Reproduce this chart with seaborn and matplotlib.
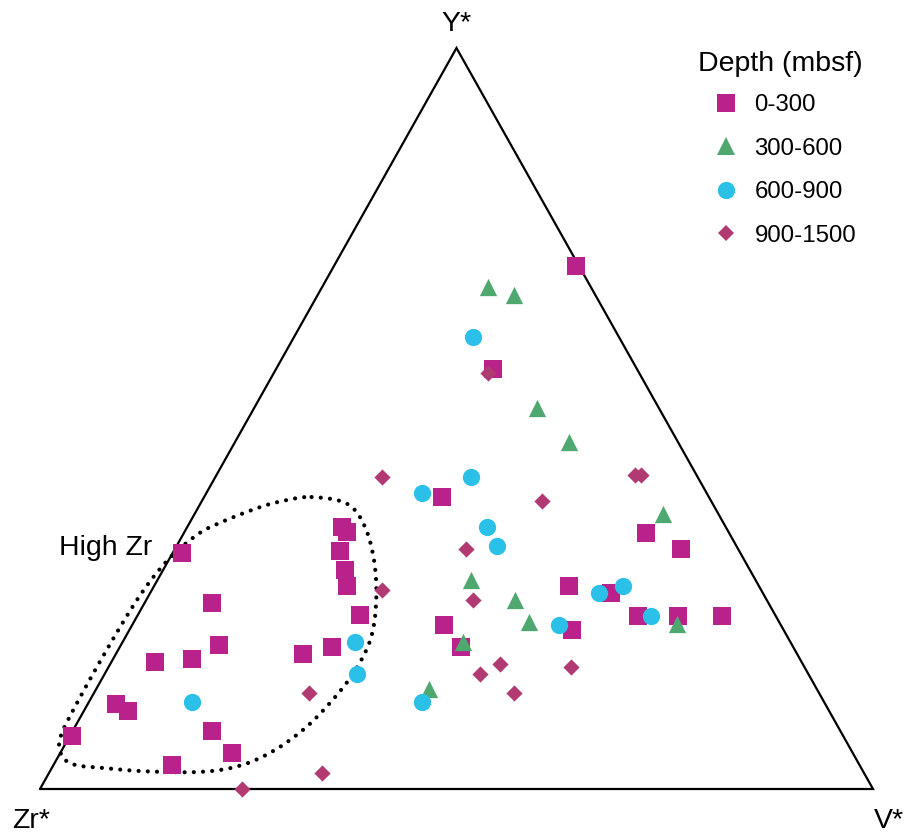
import numpy as np
import pandas as pd
import matplotlib
matplotlib.use("Agg")
import matplotlib.pyplot as plt
from matplotlib.lines import Line2D
import seaborn as sns

# ---- Compositions (percent Zr*, Y*, V*) by depth interval ----
zr_0_300 = [67.0, 46.0, 45.8, 47.9, 48.6, 49.4, 49.8, 66.8, 68.8, 77.6, 73.0, 59.3, 55.3,
            85.1, 84.2, 92.6, 75.4, 74.5, 82.5, 0.3, 17.3, 32.1, 10.0, 6.9, 22.8, 18.2,
            16.5, 11.7, 6.4, 25.4, 40.5, 39.9]
y_0_300 = [31.8, 35.4, 34.7, 32.1, 29.6, 27.4, 23.5, 25.1, 19.5, 17.1, 17.5, 18.2, 19.2,
           11.5, 10.5, 7.2, 7.8, 4.8, 3.2, 70.6, 56.7, 39.4, 34.5, 32.4, 27.4, 26.5,
           23.4, 23.4, 23.4, 21.5, 22.1, 19.2]
v_0_300 = [1.2, 18.6, 19.5, 20.0, 21.8, 23.2, 26.7, 8.1, 11.7, 5.3, 9.5, 22.5, 25.5,
           3.4, 5.3, 0.2, 16.8, 20.7, 14.3, 29.1, 26.0, 28.5, 55.5, 60.7, 49.8, 55.3,
           60.1, 64.9, 70.2, 53.1, 37.4, 40.9]

zr_300_600 = [12.4, 9.7, 14.6, 13.1, 6.7, 34.2, 30.2, 30.0, 12.4, 39.3, 46.5]
y_300_600 = [67.7, 66.7, 51.4, 46.8, 37.1, 28.2, 25.5, 22.5, 22.2, 19.8, 13.5]
v_300_600 = [19.9, 23.6, 34.0, 40.1, 56.2, 37.6, 44.3, 47.5, 65.4, 40.9, 40.0]

zr_600_900 = [17.5, 27.2, 34.2, 28.6, 28.7, 19.7, 16.3, 15.0, 26.6, 48.3, 52.3, 54.2, 75.8]
y_600_900 = [61.0, 42.1, 40.0, 35.4, 32.8, 26.4, 27.4, 23.4, 22.1, 11.8, 19.8, 15.5, 11.8]
v_600_900 = [21.5, 30.7, 25.8, 36.0, 38.5, 53.9, 56.3, 61.6, 51.3, 39.9, 27.9, 30.3, 12.4]

zr_900_1500 = [18.2, 37.9, 20.3, 7.4, 6.7, 32.7, 45.5, 35.3, 36.3, 39.4, 28.0, 36.6,
               61.2, 65.0, 75.8]
y_900_1500 = [56.1, 42.1, 38.8, 42.4, 42.4, 32.4, 26.8, 25.5, 16.9, 15.5, 16.5, 12.9,
              12.9, 2.2, 0.0]
v_900_1500 = [25.7, 20.0, 40.9, 50.2, 50.9, 34.9, 27.7, 39.2, 46.8, 45.1, 55.5, 50.5,
              25.9, 32.8, 24.2]

depth_labels = ["0-300", "300-600", "600-900", "900-1500"]

# Outline of the "High Zr" field (Y*, V* in percent)
field_y = [39.4, 38.5, 35.4, 30.5, 25.1, 20.1, 15.6, 11.6, 8.0, 5.0, 3.1, 2.3, 2.4,
           2.8, 3.2, 4.1, 5.5, 6.8, 9.3, 17.2, 25.7, 30.9, 34.3, 35.9, 37.9, 38.9]
field_v = [12.9, 17.6, 21.3, 24.9, 27.8, 29.6, 29.8, 29.0, 27.6, 25.3, 22.3, 18.0, 11.2,
           6.6, 2.8, 0.8, -0.4, -1.0, -1.3, -1.4, -1.1, -0.1, 1.7, 3.6, 7.1, 9.8]


def ternary_xy(zr, y, v):
    zr, y, v = (np.asarray(a, float) for a in (zr, y, v))
    tot = zr + y + v
    yy = y / tot
    xx = v / tot + 0.5 * yy
    return xx, yy


def closed_spline(px, py, n=24):
    pts = np.column_stack([px, py])
    m = len(pts)
    t = np.linspace(0, 1, n, endpoint=False)[:, None]
    segs = []
    for i in range(m):
        p0, p1, p2, p3 = pts[i - 1], pts[i], pts[(i + 1) % m], pts[(i + 2) % m]
        segs.append(0.5 * (2 * p1 + (p2 - p0) * t
                           + (2 * p0 - 5 * p1 + 4 * p2 - p3) * t ** 2
                           + (-p0 + 3 * p1 - 3 * p2 + p3) * t ** 3))
    segs.append(pts[:1])
    out = np.vstack(segs)
    return out[:, 0], out[:, 1]


frames = []
for lab, zr, y, v in zip(depth_labels,
                         [zr_0_300, zr_300_600, zr_600_900, zr_900_1500],
                         [y_0_300, y_300_600, y_600_900, y_900_1500],
                         [v_0_300, v_300_600, v_600_900, v_900_1500]):
    xx, yy = ternary_xy(zr, y, v)
    frames.append(pd.DataFrame({"x": xx, "y": yy, "depth": lab}))
df = pd.concat(frames, ignore_index=True)

sns.set_style("white")
plt.rcParams["font.family"] = ["Liberation Sans", "DejaVu Sans"]
plt.rcParams["text.color"] = "black"

W, H = 905, 836
fig = plt.figure(figsize=(W / 100, H / 100), dpi=100)
ax = fig.add_axes([40 / W, 47 / H, 833 / W, 741 / H])
ax.set_xlim(0, 1)
ax.set_ylim(0, 1)
ax.axis("off")

# Triangle frame
tx, ty = ternary_xy([100, 0, 0, 100], [0, 0, 100, 0], [0, 100, 0, 0])
ax.plot(tx, ty, color="black", lw=1.6, solid_joinstyle="miter", clip_on=False, zorder=1)

# High Zr field outline
fx, fy = ternary_xy(100 - np.array(field_y) - np.array(field_v), field_y, field_v)
sx, sy = closed_spline(fx, fy)
ax.plot(sx, sy, color="black", lw=3.0, linestyle=(0, (0.01, 2.2)),
        dash_capstyle="round", clip_on=False, zorder=2)

styles = {
    "0-300": dict(marker="s", color="#B8228A", s=150),
    "300-600": dict(marker="^", color="#4FA86F", s=155),
    "600-900": dict(marker="o", color="#2BC0E8", s=155),
    "900-1500": dict(marker="D", color="#B23A72", s=68),
}
for i, lab in enumerate(depth_labels):
    st = styles[lab]
    sns.scatterplot(data=df[df["depth"] == lab], x="x", y="y", marker=st["marker"],
                    color=st["color"], s=st["s"], linewidth=0, ax=ax, legend=False,
                    clip_on=False, zorder=3 + i)

# Vertex labels
ax.annotate("Y*", xy=(tx[2], ty[2]), xytext=(0, 17), textcoords="offset pixels",
            ha="center", va="baseline", fontsize=20.5)
ax.annotate("Zr*", xy=(tx[0], ty[0]), xytext=(-28, -39), textcoords="offset pixels",
            ha="left", va="baseline", fontsize=20.5)
ax.annotate("V*", xy=(tx[1], ty[1]), xytext=(1, -39), textcoords="offset pixels",
            ha="left", va="baseline", fontsize=20.5)
fig.text(59 / W, 1 - 555 / H, "High Zr", ha="left", va="baseline", fontsize=20.5)

# Legend: heading and entries
fig.text(698 / W, 1 - 71 / H, "Depth (mbsf)", ha="left", va="baseline", fontsize=20.5)
handles = [Line2D([], [], linestyle="none", marker=styles[l]["marker"],
                  color=styles[l]["color"], markeredgewidth=0,
                  markersize=np.sqrt(styles[l]["s"])) for l in depth_labels]
leg = fig.legend(handles, depth_labels, loc="upper left",
                 bbox_to_anchor=(698 / W, 1 - 94 / H), frameon=False, borderpad=0,
                 borderaxespad=0, fontsize=17.3,
                 handlelength=2.3, handletextpad=0.05, labelspacing=0.9)

fig.savefig("out.png", dpi=100)
